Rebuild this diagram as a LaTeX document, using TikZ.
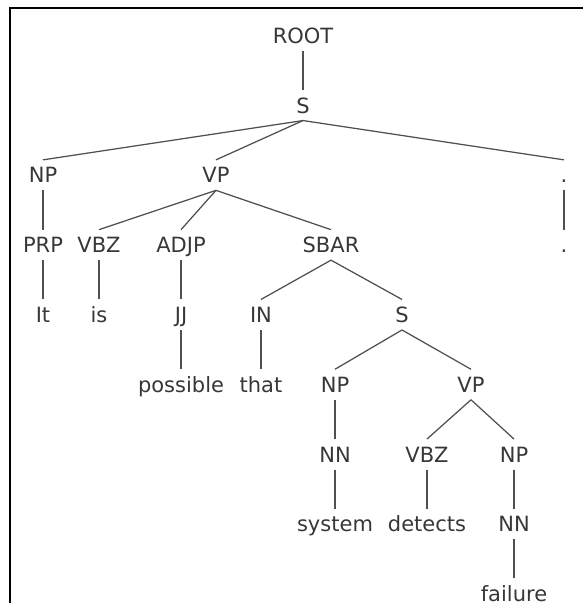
\documentclass[tikz,border=0pt]{standalone}
\usepackage{fontspec}
\setmainfont{DejaVu Sans}
\definecolor{txtc}{RGB}{55,55,55}
\definecolor{edgec}{RGB}{80,80,80}
\begin{document}
\begin{tikzpicture}[x=1pt,y=-1pt,
  lbl/.style={font=\fontsize{21}{21}\selectfont, text=txtc, inner xsep=0pt,
    inner ysep=7.5pt, outer sep=0pt, text height=15.5pt, text depth=0pt, anchor=center},
  edge/.style={draw=edgec, line width=1.25pt}]
\useasboundingbox (0,0) rectangle (583,603);
\draw[line width=2pt, black] (9.5,603) -- (9.5,8) -- (583,8);
% rows
\def\rA{35.5}\def\rB{105.3}\def\rC{175.1}\def\rD{244.9}\def\rE{314.7}
\def\rF{384.5}\def\rG{454.3}\def\rH{524.1}\def\rI{593.4}
\node[lbl] (root) at (303,\rA) {ROOT};
\node[lbl] (s1) at (303,\rB) {S};
\node[lbl] (np1) at (43,\rC) {NP};
\node[lbl] (vp1) at (216,\rC) {VP};
\node[lbl] (pu1) at (564,\rC) {.};
\node[lbl] (prp) at (43,\rD) {PRP};
\node[lbl] (vbz1) at (99,\rD) {VBZ};
\node[lbl] (adjp) at (181,\rD) {ADJP};
\node[lbl] (sbar) at (331,\rD) {SBAR};
\node[lbl] (pu2) at (564,\rD) {.};
\node[lbl] (it) at (43,\rE) {It};
\node[lbl] (is) at (99,\rE) {is};
\node[lbl] (jj) at (181,\rE) {JJ};
\node[lbl] (in) at (261,\rE) {IN};
\node[lbl] (s2) at (402,\rE) {S};
\node[lbl] (possible) at (181,\rF) {possible};
\node[lbl] (that) at (261,\rF) {that};
\node[lbl] (np2) at (335,\rF) {NP};
\node[lbl] (vp2) at (471,\rF) {VP};
\node[lbl] (nn1) at (335,\rG) {NN};
\node[lbl] (vbz2) at (427,\rG) {VBZ};
\node[lbl] (np3) at (514,\rG) {NP};
\node[lbl] (system) at (335,\rH) {system};
\node[lbl] (detects) at (427,\rH) {detects};
\node[lbl] (nn2) at (514,\rH) {NN};
\node[lbl, inner ysep=0pt] (failure) at (514,\rI) {failure};
% edges
\foreach \p/\c in {root/s1, s1/np1, s1/vp1, s1/pu1, np1/prp, vp1/vbz1, vp1/adjp, vp1/sbar,
  pu1/pu2, prp/it, vbz1/is, adjp/jj, sbar/in, sbar/s2, jj/possible, in/that, s2/np2, s2/vp2,
  np2/nn1, vp2/vbz2, vp2/np3, nn1/system, vbz2/detects, np3/nn2}
  \draw[edge] (\p.south) -- (\c.north);
\draw[edge] (nn2.south) -- ([yshift=7.5pt]failure.north);
\end{tikzpicture}
\end{document}
